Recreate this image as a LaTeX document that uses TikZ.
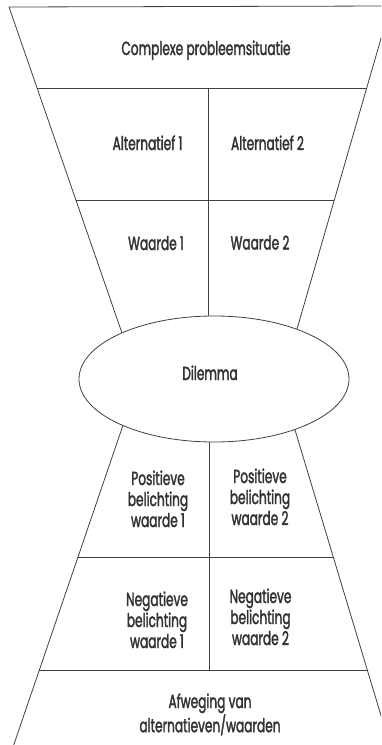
\documentclass[tikz,border=0pt]{standalone}
\usepackage{fontspec}
\setmainfont[FakeStretch=0.64,FakeBold=1.8]{Poppins}
\usetikzlibrary{shapes.geometric}
\newcommand\mltext[1]{\begin{tabular}[t]{@{}c@{}}#1\end{tabular}}
\begin{document}
\begin{tikzpicture}[x=1pt,y=-1pt,
  edge/.style={draw=black!75, line width=0.8pt},
  lbl/.style={text=black!80, font=\fontsize{19}{21}\selectfont, anchor=base, inner sep=0pt}]
\useasboundingbox (0,0) rectangle (381,745);
\clip (0,0) rectangle (381,745);
% funnel corner points
\coordinate (TL) at (9,7);
\coordinate (TR) at (390.4,6);
\coordinate (ULe) at (133.3,365.6);
\coordinate (URe) at (287.7,361.3);
\coordinate (LLe) at (132.9,396.3);
\coordinate (LLb) at (12,750);
\coordinate (LRe) at (286,400);
\coordinate (LRb) at (391.4,750);
% row dividers
\coordinate (h1l) at (37.1,88);   \coordinate (h1r) at (366.7,88);
\coordinate (h2l) at (76.4,200.5); \coordinate (h2r) at (334.1,200.5);
\coordinate (h3l) at (78.0,557);  \coordinate (h3r) at (333.3,557);
\coordinate (h4l) at (39.35,670); \coordinate (h4r) at (367.3,670);
\coordinate (v1t) at (208,88);  \coordinate (v1b) at (208,379);
\coordinate (v2t) at (209,379); \coordinate (v2b) at (209,670);
% outline
\draw[edge] (TL) -- (TR);
\draw[edge] (TL) -- (ULe);
\draw[edge] (TR) -- (URe);
\draw[edge] (LLe) -- (LLb);
\draw[edge] (LRe) -- (LRb);
\draw[edge] (h1l) -- (h1r);
\draw[edge] (h2l) -- (h2r);
\draw[edge] (h3l) -- (h3r);
\draw[edge] (h4l) -- (h4r);
\draw[edge] (v1t) -- (v1b);
\draw[edge] (v2t) -- (v2b);
% dilemma ellipse
\node[ellipse, edge, fill=white, minimum width=270pt, minimum height=126pt, inner sep=0pt] (dil) at (214,379) {};
% labels
\node[lbl] (cps) at (206,55) {Complexe probleemsituatie};
\node[lbl] (alt1) at (147.5,150) {Alternatief 1};
\node[lbl] (alt2) at (267.5,150) {Alternatief 2};
\node[lbl] (wa1) at (156,250) {Waarde 1};
\node[lbl] (wa2) at (260,249.5) {Waarde 2};
\node[lbl] (dilt) at (210,380) {Dilemma};
\node[lbl] (pos1) at (158,485) {\mltext{Positieve\\belichting\\waarde 1}};
\node[lbl] (pos2) at (260,483) {\mltext{Positieve\\belichting\\waarde 2}};
\node[lbl] (neg1) at (157,606) {\mltext{Negatieve\\belichting\\waarde 1}};
\node[lbl] (neg2) at (260.5,603) {\mltext{Negatieve\\belichting\\waarde 2}};
\node[lbl] (afw) at (210,708) {\mltext{Afweging van\\alternatieven/waarden}};
\end{tikzpicture}
\end{document}
